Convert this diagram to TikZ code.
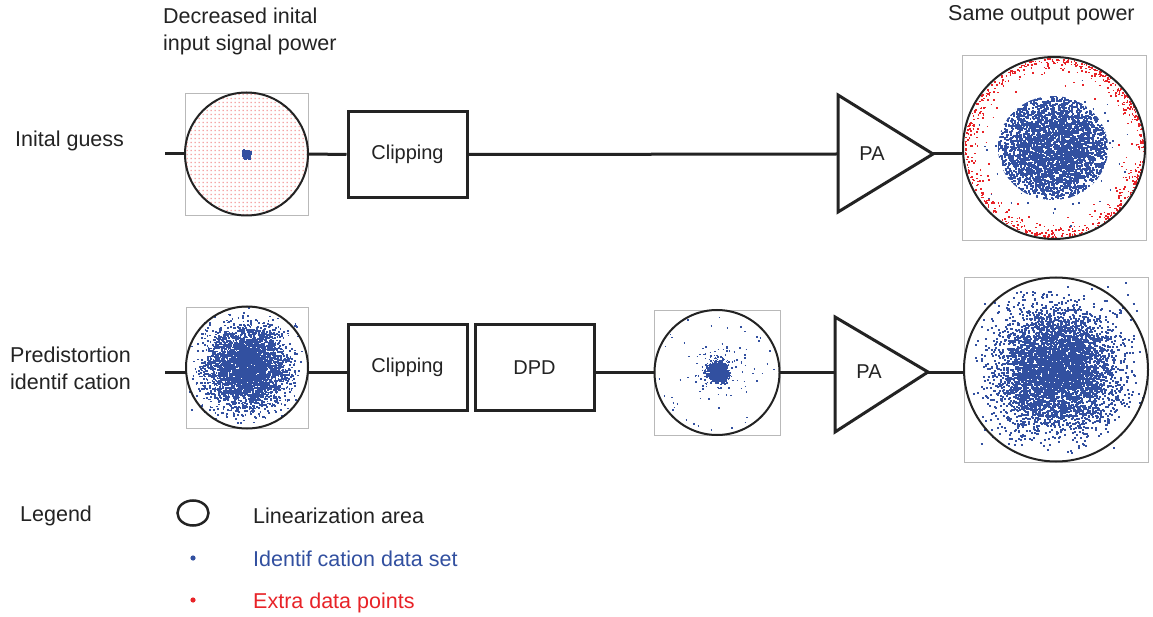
\documentclass[tikz,border=0pt]{standalone}
\usepackage{fontspec}
\setmainfont{Liberation Sans}
\usetikzlibrary{shapes.geometric}
\definecolor{ink}{RGB}{35,35,35}
\definecolor{dblue}{RGB}{50,80,160}
\definecolor{dred}{RGB}{232,35,40}
\definecolor{lred}{RGB}{240,120,120}
\definecolor{framegray}{RGB}{185,185,185}
\begin{document}
\begin{tikzpicture}[x=1pt,y=-1pt,
  lbl/.style={font=\fontsize{21.5}{26}\selectfont, text=ink, inner sep=0pt, anchor=base west},
  blockbox/.style={draw=ink, line width=3pt, minimum width=119pt, minimum height=86pt, inner sep=0pt, font=\fontsize{20}{24}\selectfont, text=ink},
  palbl/.style={font=\fontsize{20}{24}\selectfont, text=ink, inner sep=0pt},
  plotframe/.style={draw=framegray, line width=0.8pt, inner sep=0pt},
  linarea/.style={draw=ink, line width=2pt},
  conn/.style={draw=ink, line width=3pt},
  amp/.style={draw=ink, line width=3pt, line join=miter},
  bdots/.style={draw=dblue, line width=#1, line cap=butt},
  rdots/.style={draw=dred, line width=#1, line cap=butt},
]
\useasboundingbox (0,0) rectangle (1153,617);
\fill[white] (0,0) rectangle (1153,617);
\pgfmathsetseed{7}

% ---------- texts ----------
\node[lbl] (t1) at (163,24) {Decreased inital};
\node[lbl] (t2) at (163,51) {input signal power};
\node[lbl] (t3) at (948,21) {Same output power};
\node[lbl] (t4) at (15,147) {Inital guess};
\node[lbl] (t5) at (10,362) {Predistortion};
\node[lbl] (t6) at (10,389) {identif cation};

% ---------- plot frames ----------
\node[plotframe, minimum width=123pt, minimum height=122pt] (p1) at (246.5,154) {};
\node[plotframe, minimum width=184pt, minimum height=185pt] (p2) at (1054,148) {};
\node[plotframe, minimum width=122pt, minimum height=121pt] (p3) at (247,367.5) {};
\node[plotframe, minimum width=126pt, minimum height=125pt] (p4) at (717,372.5) {};
\node[plotframe, minimum width=184pt, minimum height=185pt] (p5) at (1056,369.5) {};

% ---------- scatter: top input ----------
\begin{scope}
  \clip (p1.center) circle[radius=61];
  \foreach \a in {-60,-56,...,60}{
    \fill[lred] \foreach \b in {-60,-56,...,60}{ ({246.5+\a},{154+\b}) rectangle ++(1.2,1.2) };
  }
\end{scope}
\draw[bdots=2.2pt] \foreach \i in {1,...,260}{ ({245.5+1.8*(rand+rand+rand)},{154.5+1.8*(rand+rand+rand)}) -- ++(2.2,0) };

% ---------- scatter: top output ----------
\begin{scope}[shift={(p2.center)}]
  \clip (0,0) circle[radius=91];
  \draw[rdots=1.6pt] \foreach \i in {1,...,650}{ ({360*rnd}:{89.5-38*rnd*rnd*rnd}) -- ++(1.6,0) };
  \begin{scope}
    \clip (-1,0) ellipse[x radius=55, y radius=52];
    \foreach \k in {1,...,4}{
      \draw[bdots=2.1pt] \foreach \i in {1,...,1000}{ ({-1+33*(rand+rand+rand)},{33*(rand+rand+rand)}) -- ++(2.1,0) };
    }
  \end{scope}
  \draw[bdots=1.6pt] \foreach \i in {1,...,120}{ ({-1+32*(rand+rand+rand)},{31*(rand+rand+rand)}) -- ++(1.6,0) };
\end{scope}

% ---------- scatter: bottom input ----------
\begin{scope}
  \clip (p3.south west) rectangle (p3.north east);
  \foreach \k in {1,...,4}{
    \draw[bdots=1.8pt] \foreach \i in {1,...,900}{ ({247+20*(rand+rand+rand)},{367.5+20*(rand+rand+rand)}) -- ++(1.8,0) };
  }
\end{scope}

% ---------- scatter: DPD output ----------
\begin{scope}
  \clip (p4.center) circle[radius=62];
  \draw[bdots=1.5pt] \foreach \i in {1,...,1000}{ ({717+4.5*(rand+rand+rand)},{372+4.5*(rand+rand+rand)}) -- ++(1.5,0) };
  \draw[bdots=1.5pt] \foreach \i in {1,...,150}{ ({717+11*(rand+rand+rand)},{372+11*(rand+rand+rand)}) -- ++(1.5,0) };
  \draw[bdots=1.5pt] \foreach \i in {1,...,60}{ ({717+60*rand},{372+60*rand}) -- ++(1.5,0) };
\end{scope}

% ---------- scatter: bottom output ----------
\begin{scope}
  \clip (p5.south west) rectangle (p5.north east);
  \foreach \k in {1,...,5}{
    \draw[bdots=2pt] \foreach \i in {1,...,1000}{ ({1056+30*(rand+rand+rand)},{369.5+30*(rand+rand+rand)}) -- ++(2,0) };
  }
\end{scope}

% ---------- linearization circles ----------
\draw[linarea] (p1.center) circle[radius=61.5];
\draw[linarea] (p2.center) circle[radius=91];
\draw[linarea] (p3.center) circle[radius=61];
\draw[linarea] (p4.center) circle[radius=62.5];
\draw[linarea] (p5.center) circle[radius=92];

% ---------- blocks ----------
\node[blockbox] (clip1) at (407.5,154.5) {Clipping};
\node[blockbox] (clip2) at (407.5,367.5) {Clipping};
\node[blockbox] (dpd) at (534.5,367.5) {DPD};

% amplifiers
\coordinate (pa1top) at (838,95);
\coordinate (pa1out) at (933,154);
\coordinate (pa1bot) at (838,212);
\coordinate (pa1in) at (838,154);
\draw[amp] (pa1top) -- (pa1out) -- (pa1bot) -- cycle;
\node[palbl] (pa1) at (872,154) {PA};

\coordinate (pa2top) at (835,317);
\coordinate (pa2out) at (928,372);
\coordinate (pa2bot) at (835,432);
\coordinate (pa2in) at (835,372);
\draw[amp] (pa2top) -- (pa2out) -- (pa2bot) -- cycle;
\node[palbl] (pa2) at (869,372) {PA};

% ---------- connectors ----------
\coordinate (in1) at (165,154);
\coordinate (in2) at (165,372);
\draw[conn] (in1) -- (in1 -| p1.west);
\draw[conn] (p1.east |- in1) -- (clip1.west);
\draw[conn] (clip1.east) -- (pa1in);
\draw[conn] (pa1out) -- (pa1out -| p2.west);

\draw[conn] (in2) -- (in2 -| p3.west);
\draw[conn] (p3.east |- in2) -- (in2 -| clip2.west);
\draw[conn] (in2 -| dpd.east) -- (in2 -| p4.west);
\draw[conn] (in2 -| p4.east) -- (pa2in);
\draw[conn] (pa2out) -- (pa2out -| p5.west);

% ---------- legend ----------
\node[lbl] (lg) at (20,521) {Legend};
\node[draw=ink, line width=2.5pt, ellipse, minimum width=31pt, minimum height=25pt, inner sep=0pt] (lgc) at (193,513) {};
\node[lbl] (lg1) at (253,523) {Linearization area};
\fill[dblue] (193,558) circle[radius=2.6];
\node[lbl, text=dblue] (lg2) at (253,566) {Identif cation data set};
\fill[dred] (193,600) circle[radius=2.6];
\node[lbl, text=dred] (lg3) at (253,608) {Extra data points};
\end{tikzpicture}
\end{document}
